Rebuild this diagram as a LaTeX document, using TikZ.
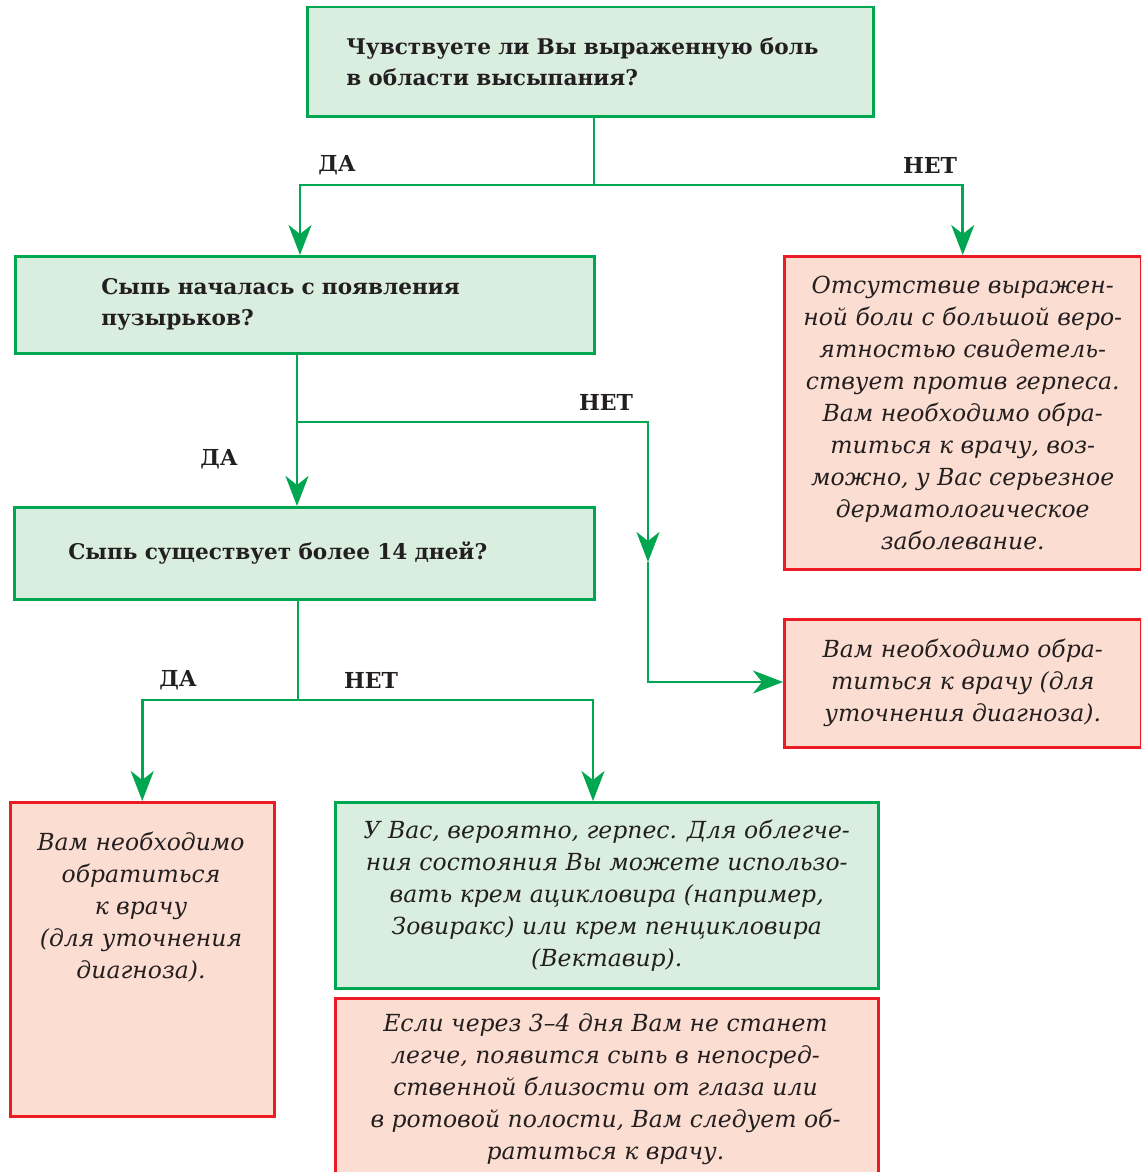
\documentclass[tikz,border=0pt]{standalone}
\usepackage{fontspec}
\setmainfont{DejaVu Serif}
\usetikzlibrary{arrows.meta}
\definecolor{gline}{HTML}{00A650}
\definecolor{gfill}{HTML}{D9EEDF}
\definecolor{rline}{HTML}{ED1C24}
\definecolor{rfill}{HTML}{FCDDD1}
\definecolor{ink}{HTML}{231F20}
\tikzset{
  qbox/.style={draw=gline, fill=gfill, line width=2.5pt, align=left, text=ink,
    font=\fontsize{21.6}{31}\selectfont\bfseries, anchor=north west, inner ysep=0pt},
  ibox/.style={draw=#1line, fill=#1fill, line width=2.5pt, align=center, text=ink,
    font=\fontsize{23.5}{32}\selectfont\itshape, anchor=north west, inner sep=0pt},
  itext/.style={text=ink, font=\fontsize{23.5}{32}\selectfont\itshape, align=center, anchor=north},
  conn/.style={draw=gline, line width=2.7pt},
  arr/.style={conn, -{Stealth[length=30pt, width=23pt, inset=9pt]}},
  lab/.style={text=ink, font=\fontsize{22}{24}\selectfont\bfseries}
}
\begin{document}
\begin{tikzpicture}[x=1pt, y=-1pt]
\useasboundingbox (0,0) rectangle (1141,1172);
\clip (0,0) rectangle (1141,1172);
\fill[white] (0,0) rectangle (1141,1172);
% question boxes
\node[qbox, minimum width=566pt, minimum height=109pt, text width=488pt, inner xsep=39pt] (q1) at (306,6)
  {Чувствуете ли Вы выраженную боль\\в области высыпания?};
\node[qbox, minimum width=579pt, minimum height=97pt, text width=407pt, inner xsep=86pt] (q2) at (14,255)
  {Сыпь началась с появления\\пузырьков?};
\node[qbox, minimum width=580pt, minimum height=92pt, text width=472pt, inner xsep=54pt] (q3) at (13,506)
  {Сыпь существует более 14 дней?};
% answer boxes
\node[ibox=r, minimum width=357pt, minimum height=313pt] (r1) at (783,255)
  {Отсутствие выражен-\\ной боли с большой веро-\\ятностью свидетель-\\ствует против герпеса.\\Вам необходимо обра-\\титься к врачу, воз-\\можно, у Вас серьезное\\дерматологическое\\заболевание.};
\node[ibox=r, minimum width=357pt, minimum height=128pt] (r2) at (783,618)
  {Вам необходимо обра-\\титься к врачу (для\\уточнения диагноза).};
\node[ibox=r, minimum width=264pt, minimum height=314pt] (r3) at (9,801) {};
\node[itext] (t3) at (141,828)
  {Вам необходимо\\обратиться\\к врачу\\(для уточнения\\диагноза).};
\node[ibox=g, minimum width=543pt, minimum height=186pt] (g4) at (334,801)
  {У Вас, вероятно, герпес. Для облегче-\\ния состояния Вы можете использо-\\вать крем ацикловира (например,\\Зовиракс) или крем пенцикловира\\(Вектавир).};
\node[ibox=r, minimum width=543pt, minimum height=200pt] (r4) at (334,997) {};
\node[itext] (t4) at (605.5,1010)
  {Если через 3–4 дня Вам не станет\\легче, появится сыпь в непосред-\\ственной близости от глаза или\\в ротовой полости, Вам следует об-\\ратиться к врачу.};
% connectors
\coordinate (j1) at (594,185);
\draw[conn] (q1.south -| j1) -- (j1);
\coordinate (a1) at (300,185);
\draw[arr] (j1) -- (a1) -- (a1 |- q2.north);
\draw[arr] (j1) -| (r1.north);
\node[lab] at (337,165) {ДА};
\node[lab] at (930,165) {НЕТ};
\coordinate (b2) at (297,422);
\coordinate (c2) at (648,422);
\coordinate (m2) at (648,562);
\coordinate (d2) at (648,682);
\draw[arr] (q2.south -| b2) -- (q3.north -| b2);
\draw[arr] (b2) -- (c2) -- (m2);
\draw[arr] (m2) -- (d2) -- (d2 -| r2.west);
\node[lab] at (219,459) {ДА};
\node[lab] at (606,402) {НЕТ};
\coordinate (j3) at (298,700);
\coordinate (e3) at (593,700);
\draw[conn] (q3.south -| j3) -- (j3);
\draw[arr] (j3) -| (r3.north);
\draw[arr] (j3) -- (e3) -- (e3 |- g4.north);
\node[lab] at (178,680) {ДА};
\node[lab] at (371,680) {НЕТ};
\end{tikzpicture}
\end{document}
